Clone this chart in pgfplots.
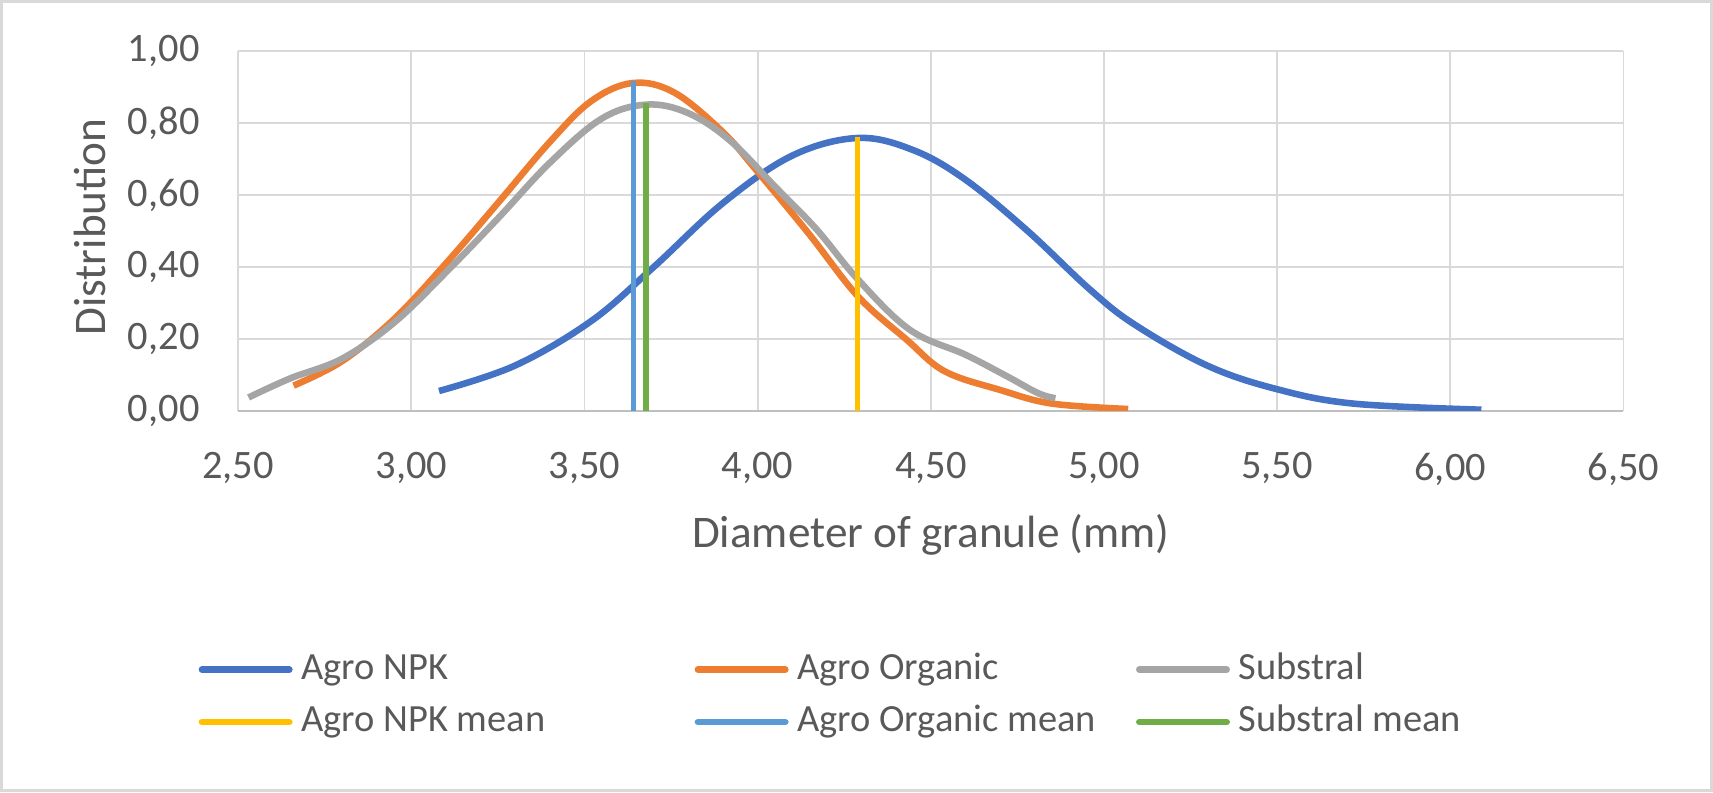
\documentclass[border=0pt]{standalone}
\usepackage{pgfplots}
\pgfplotsset{compat=1.18}
\usepackage{fontspec}
\setmainfont{Carlito}
\definecolor{txt}{HTML}{595959}
\definecolor{grd}{HTML}{D9D9D9}
\definecolor{axl}{HTML}{BFBFBF}
\definecolor{cnpk}{HTML}{4472C4}
\definecolor{corg}{HTML}{ED7D31}
\definecolor{csub}{HTML}{A5A5A5}
\definecolor{cnpkm}{HTML}{FFC000}
\definecolor{corgm}{HTML}{5B9BD5}
\definecolor{csubm}{HTML}{70AD47}

\pgfplotstableread{
x y
3.08 0.055
3.30 0.126
3.52 0.25
3.70 0.40
3.90 0.578
4.10 0.71
4.29 0.759
4.45 0.725
4.60 0.643
4.78 0.50
4.96 0.337
5.09 0.239
5.30 0.125
5.50 0.06
5.72 0.02
6.09 0.003
}\npk

\pgfplotstableread{
x y
2.66 0.07
2.80 0.138
2.95 0.255
3.10 0.41
3.25 0.578
3.40 0.748
3.52 0.862
3.64 0.912
3.76 0.885
3.90 0.775
4.00 0.665
4.15 0.49
4.29 0.318
4.43 0.198
4.54 0.11
4.70 0.058
4.85 0.02
5.07 0.005
}\org

\pgfplotstableread{
x y
2.53 0.037
2.65 0.09
2.80 0.145
2.95 0.245
3.10 0.385
3.25 0.535
3.40 0.69
3.55 0.813
3.68 0.852
3.80 0.828
3.92 0.752
4.05 0.624
4.17 0.505
4.29 0.365
4.44 0.225
4.60 0.156
4.72 0.096
4.81 0.049
4.86 0.035
}\sub

\begin{document}
\begin{tikzpicture}
\begin{axis}[
  scale only axis, width=634pt, height=164.5pt,
  xmin=2.5, xmax=6.5, ymin=0, ymax=1,
  xtick={2.5,3,3.5,4,4.5,5,5.5,6,6.5},
  ytick={0,0.2,0.4,0.6,0.8,1},
  grid=major, major grid style={grd, line width=0.8pt},
  axis x line*=bottom, axis y line*=left,
  x axis line style={axl, line width=0.8pt, -},
  y axis line style={draw=none},
  major tick length=0pt, tick style={draw=none},
  xticklabel={\pgfmathprintnumber[use comma,fixed,fixed zerofill,precision=2,assume math mode=true]{\tick}},
  yticklabel={\pgfmathprintnumber[use comma,fixed,fixed zerofill,precision=2,assume math mode=true]{\tick}},
  every tick label/.append style={font=\fontsize{18.5}{22}\selectfont, text=txt, inner sep=0pt},
  xticklabel style={anchor=north, yshift=-19pt},
  yticklabel style={anchor=east, xshift=-17.5pt},
  xlabel={Diameter of granule (mm)},
  ylabel={Distribution},
  xlabel style={at={(axis description cs:0.5,-0.3465)}, anchor=center, font=\fontsize{20.7}{24}\selectfont, text=txt},
  ylabel style={at={(axis description cs:-0.1073,0.511)}, anchor=center, font=\fontsize{20.7}{24}\selectfont, text=txt},
  legend columns=3,
  legend cell align=left,
  legend style={at={(axis description cs:-0.0285,-0.793)}, anchor=west, draw=none, fill=none,
    inner sep=0pt, outer sep=0pt, column sep=4pt, row sep=8pt,
    font=\fontsize{17.6}{21}\selectfont, text=txt,
    nodes={inner sep=0pt, anchor=west, text height=12.5pt, text depth=3.5pt}},
  legend image code/.code={\draw[#1, line width=3pt, line cap=round] (0pt,0pt) -- (40pt,0pt);},
]
\addplot[cnpk, line width=3pt, smooth, tension=0.6] table[x=x,y=y]{\npk};
\addlegendentry{\makebox[176pt][l]{Agro NPK}}
\addplot[corg, line width=3pt, smooth, tension=0.6] table[x=x,y=y]{\org};
\addlegendentry{\makebox[151pt][l]{Agro Organic}}
\addplot[csub, line width=3pt, smooth, tension=0.6] table[x=x,y=y]{\sub};
\addlegendentry{Substral}
\addplot[cnpkm, line width=2.5pt] coordinates {(4.289,0) (4.289,0.763)};
\addlegendentry{\makebox[176pt][l]{Agro NPK mean}}
\addplot[corgm, line width=2.5pt] coordinates {(3.641,0) (3.641,0.917)};
\addlegendentry{\makebox[151pt][l]{Agro Organic mean}}
\addplot[csubm, line width=2.5pt] coordinates {(3.677,0) (3.677,0.856)};
\addlegendentry{Substral mean}
\end{axis}
\draw[grd, line width=1.2pt] (-108.4pt,-173.9pt) rectangle (674.4pt,187.4pt);
\pgfresetboundingbox
\path[use as bounding box] (-109pt,-174.5pt) rectangle (675pt,188pt);
\end{tikzpicture}
\end{document}
